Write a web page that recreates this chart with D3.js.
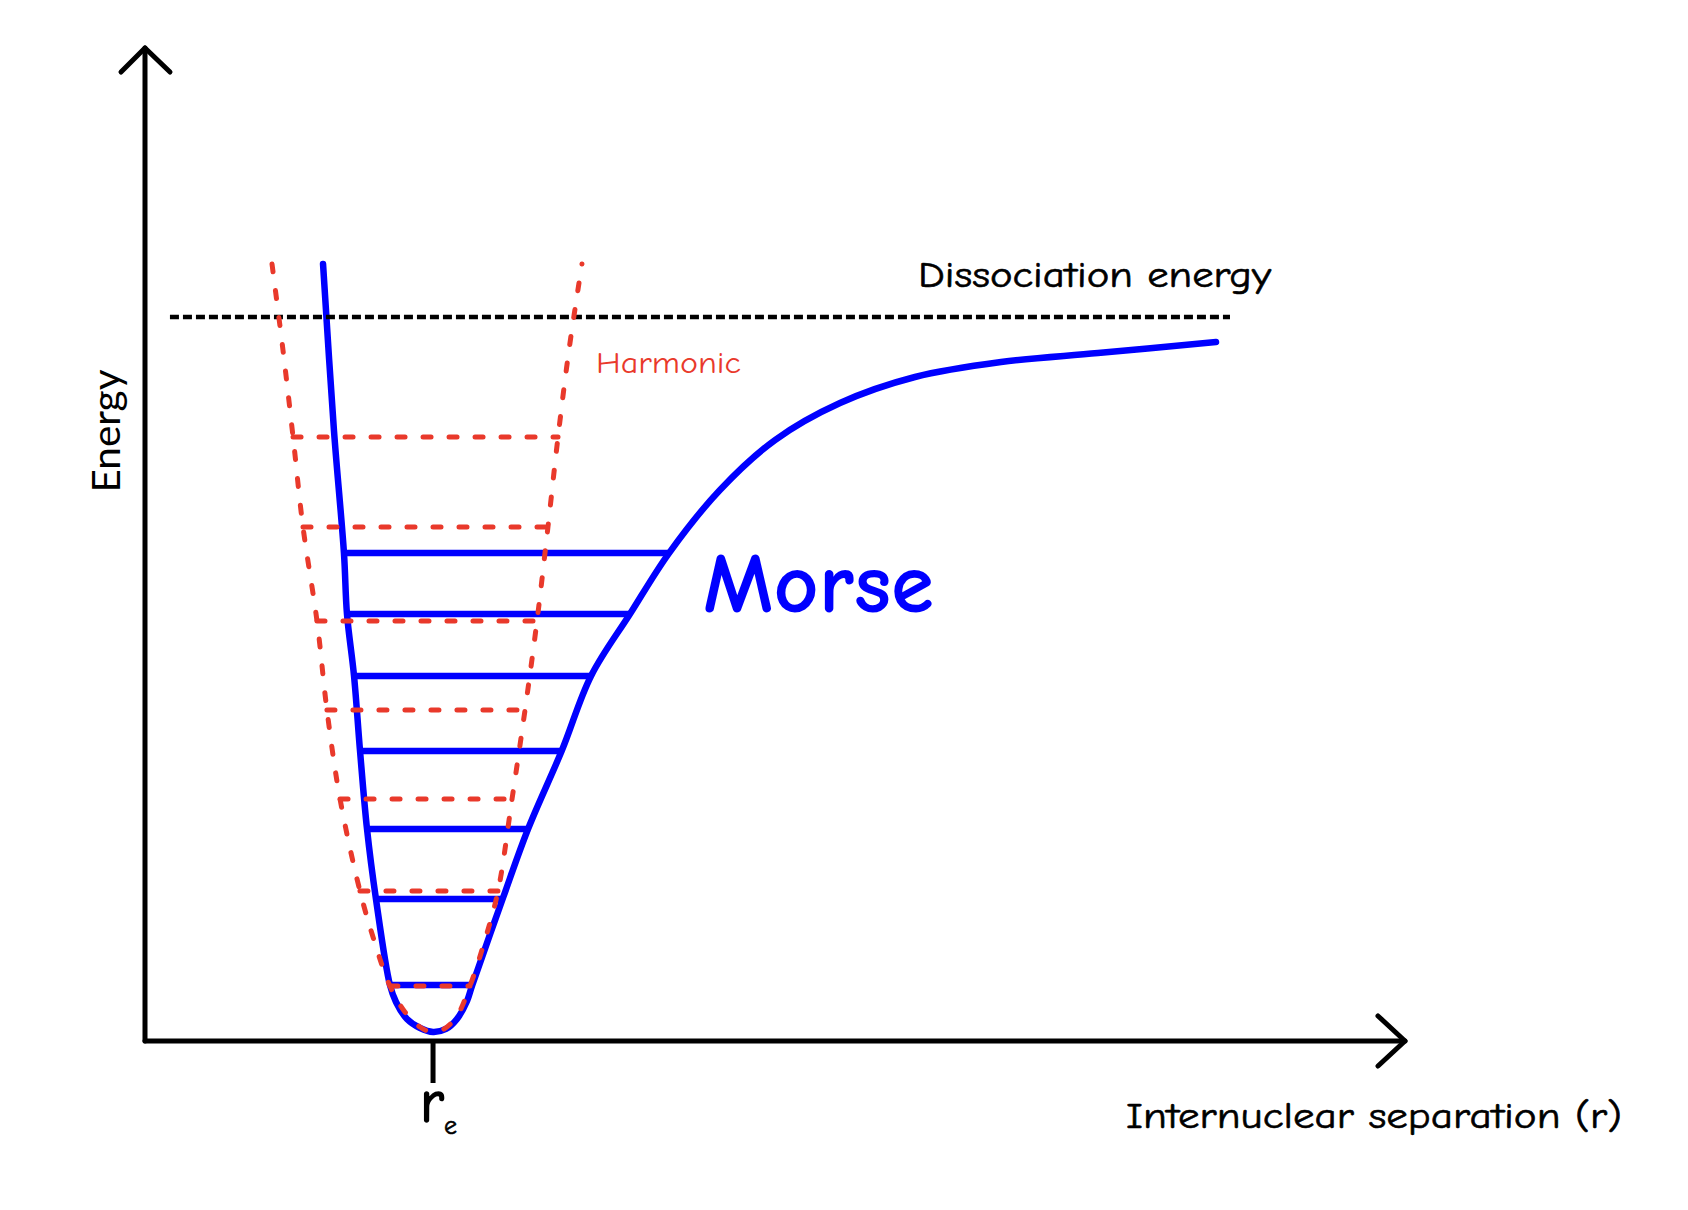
<!DOCTYPE html>
<html><head><meta charset="utf-8">
<script src="https://cdn.jsdelivr.net/npm/d3@7"></script>
<style>html,body{margin:0;padding:0;background:#fff;} svg{display:block;}</style>
</head><body>
<script>
// ---------- data (arbitrary units: r along x, energy along y) ----------
const axisExtentR = [0, 10];
const axisExtentE = [0, 10];

const morseCurve = [
  [1.413,7.825],[1.500,6.143],[1.579,4.914],[1.603,4.300],[1.659,3.676],[1.706,2.930],
  [1.762,2.135],[1.833,1.430],[1.944,0.564],[1.992,0.393],[2.079,0.222],[2.183,0.131],
  [2.286,0.091],[2.389,0.121],[2.476,0.222],[2.556,0.403],[2.595,0.554],[2.841,1.440],
  [3.040,2.135],[3.310,2.930],[3.540,3.676],[3.849,4.300],[4.159,4.914],[4.563,5.549],
  [5.000,6.052],[5.516,6.425],[6.111,6.687],[6.794,6.838],[7.563,6.928],[8.500,7.039]
];
const morseLevelE     = [4.914, 4.300, 3.676, 2.920, 2.135, 1.430, 0.564];
const morseLevelLeft  = [1.587, 1.603, 1.667, 1.706, 1.770, 1.833, 1.944];
const morseLevelRight = [4.159, 3.849, 3.540, 3.310, 3.040, 2.841, 2.595];

const harmonicCurve = [
  [1.008,7.825],[1.095,6.959],[1.175,6.083],[1.254,5.176],[1.365,4.230],[1.444,3.333],
  [1.548,2.437],[1.706,1.511],[1.817,1.017],[1.944,0.554],[2.063,0.292],[2.183,0.141],
  [2.278,0.091],[2.373,0.121],[2.476,0.252],[2.579,0.554],[2.698,1.017],[2.802,1.511],
  [2.913,2.437],[3.016,3.333],[3.111,4.230],[3.198,5.176],[3.278,6.083],[3.365,6.959],
  [3.468,7.825]
];
const harmonicLevelE     = [6.083, 5.176, 4.230, 3.333, 2.437, 1.511, 0.554];
const harmonicLevelLeft  = [1.175, 1.254, 1.365, 1.444, 1.548, 1.706, 1.944];
const harmonicLevelRight = [3.278, 3.198, 3.111, 3.016, 2.913, 2.802, 2.579];

const dissociationE = 7.29;
const dissociationSpan = [0.198, 8.611];
const rE = 2.286;

const labels = {
  dissociation: "Dissociation energy",
  harmonic: "Harmonic",
  morse: "Morse",
  yTitle: "Energy",
  xTitle: "Internuclear separation (r)",
  rMain: "r",
  rSub: "e"
};

// ---------- drawing ----------
const W = 1688, H = 1210;
const BLUE = "#0000ff", RED = "#e9392b", CASUAL = "'Comic Sans MS','Comic Neue','Noto Sans',sans-serif";

const x = d3.scaleLinear().domain(axisExtentR).range([145, 1405]);
const y = d3.scaleLinear().domain(axisExtentE).range([1041, 48]);

const svg = d3.select("body").append("svg").attr("width", W).attr("height", H);

const line = d3.line().x(d => x(d[0])).y(d => y(d[1])).curve(d3.curveCatmullRom.alpha(0.5));

// Axes
const axes = svg.append("g").attr("stroke", "#000").attr("stroke-width", 5)
  .attr("fill", "none").attr("stroke-linecap", "round").attr("stroke-linejoin", "round");
axes.append("line").attr("x1", x(0)).attr("y1", y(0)).attr("x2", x(0)).attr("y2", y(axisExtentE[1]));
axes.append("line").attr("x1", x(0)).attr("y1", y(0)).attr("x2", x(axisExtentR[1])).attr("y2", y(0));
const yt = [x(0), y(axisExtentE[1])], xt = [x(axisExtentR[1]), y(0)];
axes.append("path").attr("d", `M${yt[0]-24},${yt[1]+24}L${yt[0]},${yt[1]}L${yt[0]+25},${yt[1]+24}`);
axes.append("path").attr("d", `M${xt[0]-27},${xt[1]-25}L${xt[0]},${xt[1]}L${xt[0]-27},${xt[1]+25}`);
// r_e tick
axes.append("line").attr("x1", x(rE)).attr("y1", y(0)).attr("x2", x(rE)).attr("y2", y(0) + 42)
  .attr("stroke-linecap", "butt");

// Morse curve and levels
svg.append("path").datum(morseCurve).attr("d", line).attr("fill", "none")
  .attr("stroke", BLUE).attr("stroke-width", 6.5).attr("stroke-linecap", "round");
svg.append("g").selectAll("line").data(morseLevelE).join("line")
  .attr("x1", (d, i) => x(morseLevelLeft[i])).attr("x2", (d, i) => x(morseLevelRight[i]))
  .attr("y1", d => y(d)).attr("y2", d => y(d))
  .attr("stroke", BLUE).attr("stroke-width", 6.5);

// Dissociation line
svg.append("line").attr("x1", x(dissociationSpan[0])).attr("x2", x(dissociationSpan[1]))
  .attr("y1", y(dissociationE)).attr("y2", y(dissociationE))
  .attr("stroke", "#000").attr("stroke-width", 4.5).attr("stroke-dasharray", "9 4");

// Harmonic curve and levels
svg.append("path").datum(harmonicCurve).attr("d", line).attr("fill", "none")
  .attr("stroke", RED).attr("stroke-width", 5).attr("stroke-linecap", "round")
  .attr("stroke-dasharray", "8 19");
svg.append("g").selectAll("line").data(harmonicLevelE).join("line")
  .attr("x1", (d, i) => x(harmonicLevelLeft[i])).attr("x2", (d, i) => x(harmonicLevelRight[i]))
  .attr("y1", d => y(d)).attr("y2", d => y(d))
  .attr("stroke", RED).attr("stroke-width", 5).attr("stroke-linecap", "round")
  .attr("stroke-dasharray", "8 18");

// Texts
function txt(s, px, py, size, fill, len, extra) {
  const t = svg.append("text").attr("x", px).attr("y", py).text(s)
    .attr("font-family", CASUAL).attr("font-size", size).attr("fill", fill);
  if (len) t.attr("textLength", len).attr("lengthAdjust", "spacingAndGlyphs");
  if (extra) extra(t);
  return t;
}
const darken = t => t.attr("stroke", "#000").attr("stroke-width", 0.6);
txt(labels.dissociation, 918, 287, 36, "#000", 353, darken);
txt(labels.harmonic, 596, 373, 31, RED, 145);
txt(labels.morse, 703, 612, 84, BLUE, 231, t => t.attr("font-weight", "bold"));
txt(labels.xTitle, 1126, 1128, 37, "#000", 496, darken);
txt(labels.rMain, x(rE) - 1, 1122, 60, "#000", null,
    t => t.attr("text-anchor", "middle").attr("stroke", "#000").attr("stroke-width", 1.5));
txt(labels.rSub, x(rE) + 11, 1134, 26, "#000", null, darken);
svg.append("text").attr("transform", "translate(120,431) rotate(-90)")
  .attr("text-anchor", "middle").attr("font-family", "Lato,'Open Sans',sans-serif")
  .attr("font-size", 38).attr("fill", "#000")
  .attr("textLength", 123).attr("lengthAdjust", "spacingAndGlyphs")
  .text(labels.yTitle);
</script>
</body></html>
